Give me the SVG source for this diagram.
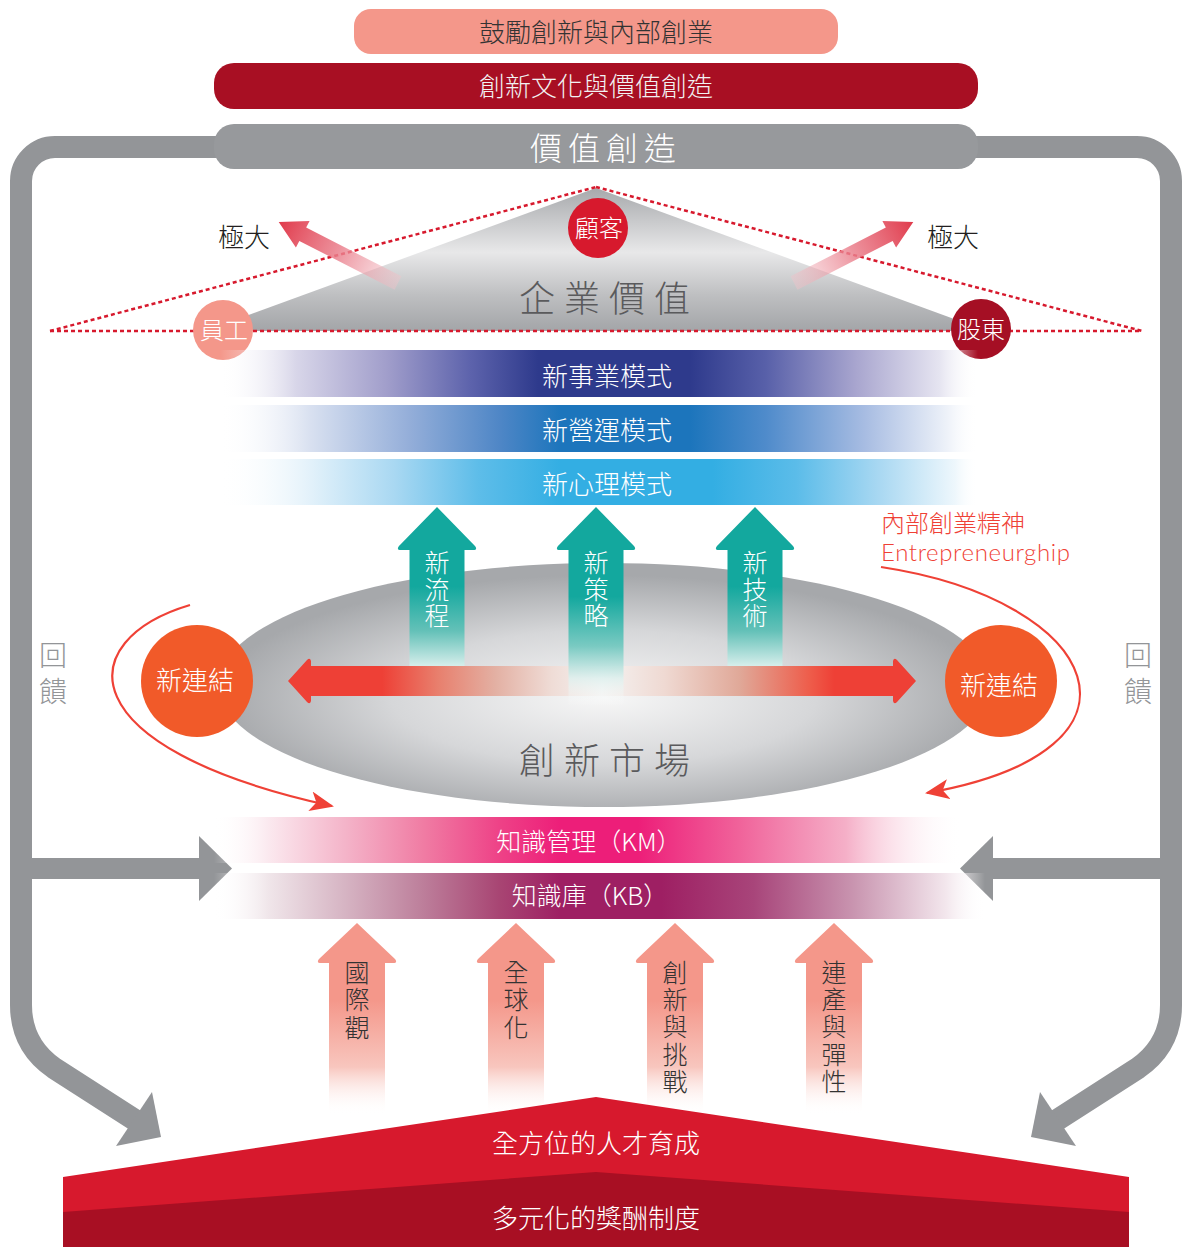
<svg xmlns="http://www.w3.org/2000/svg" width="1182" height="1247" viewBox="0 0 1182 1247">
<style>
.t{font-family:"Noto Sans CJK TC","Noto Sans CJK SC",sans-serif;font-weight:300;}
.c{text-anchor:middle;dominant-baseline:central;}
.w{fill:#ffffff;}
.dk{fill:#333333;}
.gy{fill:#5a5a5c;}
.frame{fill:none;stroke:#939598;stroke-width:22;}
.fhead{fill:#939598;}
.dot{fill:none;stroke:#D7192D;stroke-width:2.5;stroke-dasharray:4 3;}
.rc{fill:none;stroke:#EF4136;stroke-width:2.2;}
</style>
<defs>
<linearGradient id="gTri" x1="0" y1="0" x2="0" y2="1">
<stop offset="0" stop-color="#A7A9AC"/>
<stop offset="0.45" stop-color="#E8E8E9"/>
<stop offset="0.75" stop-color="#BEBFC1"/>
<stop offset="1" stop-color="#A3A5A8"/>
</linearGradient>
<radialGradient id="gEll" cx="0.5" cy="0.55" r="0.5">
<stop offset="0" stop-color="#F7F7F7"/>
<stop offset="0.55" stop-color="#D6D7D9"/>
<stop offset="1" stop-color="#A6A8AB"/>
</radialGradient>
<linearGradient id="gPink" x1="0" y1="0" x2="1" y2="0">
<stop offset="0" stop-color="#F3C3CA" stop-opacity="0.4"/>
<stop offset="0.5" stop-color="#EA7F8C" stop-opacity="0.85"/>
<stop offset="1" stop-color="#E03A4B"/>
</linearGradient>
<linearGradient id="gB1" x1="0" y1="0" x2="1" y2="0">
<stop offset="0" stop-color="#ffffff" stop-opacity="0"/>
<stop offset="0.1" stop-color="#D8D6E9"/>
<stop offset="0.22" stop-color="#A19ECB"/>
<stop offset="0.33" stop-color="#5D63AC"/>
<stop offset="0.42" stop-color="#2E3A8C"/>
<stop offset="0.62" stop-color="#2E3A8C"/>
<stop offset="0.72" stop-color="#5860A9"/>
<stop offset="0.84" stop-color="#A9A6CF"/>
<stop offset="0.95" stop-color="#E6E5F1"/>
<stop offset="1" stop-color="#ffffff" stop-opacity="0"/>
</linearGradient>
<linearGradient id="gB2" x1="0" y1="0" x2="1" y2="0">
<stop offset="0" stop-color="#ffffff" stop-opacity="0"/>
<stop offset="0.12" stop-color="#D8E0F0"/>
<stop offset="0.25" stop-color="#94AED9"/>
<stop offset="0.37" stop-color="#4E86C6"/>
<stop offset="0.45" stop-color="#1C75BC"/>
<stop offset="0.62" stop-color="#1C75BC"/>
<stop offset="0.72" stop-color="#4F8BCB"/>
<stop offset="0.85" stop-color="#A7BCE2"/>
<stop offset="0.96" stop-color="#EEF2F9"/>
<stop offset="1" stop-color="#ffffff" stop-opacity="0"/>
</linearGradient>
<linearGradient id="gB3" x1="0" y1="0" x2="1" y2="0">
<stop offset="0" stop-color="#ffffff" stop-opacity="0"/>
<stop offset="0.12" stop-color="#E2F1FA"/>
<stop offset="0.23" stop-color="#A9D8F2"/>
<stop offset="0.34" stop-color="#5EBDE9"/>
<stop offset="0.45" stop-color="#33AEE3"/>
<stop offset="0.65" stop-color="#33AEE3"/>
<stop offset="0.76" stop-color="#5BBCE9"/>
<stop offset="0.87" stop-color="#A9D8F2"/>
<stop offset="0.97" stop-color="#EEF7FC"/>
<stop offset="1" stop-color="#ffffff" stop-opacity="0"/>
</linearGradient>
<linearGradient id="gKM" x1="0" y1="0" x2="1" y2="0">
<stop offset="0" stop-color="#ffffff" stop-opacity="0"/>
<stop offset="0.07" stop-color="#FBE9EF"/>
<stop offset="0.17" stop-color="#F4B4C9"/>
<stop offset="0.27" stop-color="#F07DA4"/>
<stop offset="0.37" stop-color="#EE4287"/>
<stop offset="0.45" stop-color="#ED1E79"/>
<stop offset="0.55" stop-color="#ED1E79"/>
<stop offset="0.68" stop-color="#F0629A"/>
<stop offset="0.82" stop-color="#F5B0C8"/>
<stop offset="0.97" stop-color="#ffffff" stop-opacity="0"/>
</linearGradient>
<linearGradient id="gKB" x1="0" y1="0" x2="1" y2="0">
<stop offset="0" stop-color="#ffffff" stop-opacity="0"/>
<stop offset="0.07" stop-color="#F0E6EA"/>
<stop offset="0.17" stop-color="#D6B4C3"/>
<stop offset="0.27" stop-color="#BD7F9B"/>
<stop offset="0.37" stop-color="#A84573"/>
<stop offset="0.45" stop-color="#9E1F63"/>
<stop offset="0.58" stop-color="#9E1F63"/>
<stop offset="0.7" stop-color="#A8457A"/>
<stop offset="0.83" stop-color="#C995B0"/>
<stop offset="0.95" stop-color="#F3E7ED"/>
<stop offset="1" stop-color="#ffffff" stop-opacity="0"/>
</linearGradient>
<linearGradient id="gTeal" x1="0" y1="0" x2="0" y2="1">
<stop offset="0" stop-color="#13A89E"/>
<stop offset="0.5" stop-color="#13A89E"/>
<stop offset="0.78" stop-color="#64C1B8"/>
<stop offset="1" stop-color="#D6EEEB"/>
</linearGradient>
<linearGradient id="gTealM" x1="0" y1="0" x2="0" y2="1">
<stop offset="0" stop-color="#13A89E"/>
<stop offset="0.45" stop-color="#13A89E"/>
<stop offset="0.7" stop-color="#7ACAC2"/>
<stop offset="0.86" stop-color="#DDF0EE" stop-opacity="0.85"/>
<stop offset="1" stop-color="#ffffff" stop-opacity="0"/>
</linearGradient>
<linearGradient id="gSal" x1="0" y1="0" x2="0" y2="1">
<stop offset="0" stop-color="#F4978A"/>
<stop offset="0.4" stop-color="#F4978A"/>
<stop offset="0.75" stop-color="#F8C6BE"/>
<stop offset="1" stop-color="#ffffff" stop-opacity="0"/>
</linearGradient>
<linearGradient id="gRed" x1="288" y1="0" x2="916" y2="0" gradientUnits="userSpaceOnUse">
<stop offset="0" stop-color="#EE4036"/>
<stop offset="0.15" stop-color="#EE4036"/>
<stop offset="0.24" stop-color="#E8806E"/>
<stop offset="0.33" stop-color="#E3B0A3"/>
<stop offset="0.42" stop-color="#EFDCD6"/>
<stop offset="0.5" stop-color="#F5F3F2"/>
<stop offset="0.6" stop-color="#EFD9D2"/>
<stop offset="0.72" stop-color="#E0A898"/>
<stop offset="0.83" stop-color="#EE5D4B"/>
<stop offset="0.87" stop-color="#EE4036"/>
<stop offset="1" stop-color="#EE4036"/>
</linearGradient>
<marker id="mRed" viewBox="0 0 24 20" refX="22" refY="10" markerWidth="24" markerHeight="20" markerUnits="userSpaceOnUse" orient="auto">
<path d="M0,0 L24,10 L0,20 L6,10 Z" fill="#EF4136"/>
</marker>
</defs>

<!-- connectors: feedback frame and arrows -->
<g id="connectors">
<path class="frame" d="M230 147 H55 A34 34 0 0 0 21 181 V1005 Q21 1045 54 1068 L138 1122"/>
<polygon class="fhead" points="161,1137 152,1092 116,1146"/>
<path class="frame" d="M962 147 H1137 A34 34 0 0 1 1171 181 V1005 Q1171 1045 1138 1068 L1054 1122"/>
<polygon class="fhead" points="1031,1137 1040,1092 1076,1146"/>
<path class="frame" style="stroke-width:21" d="M21 868.5 H201"/>
<polygon class="fhead" points="199,836 232,868.5 199,901"/>
<path class="frame" style="stroke-width:21" d="M1171 868.5 H991"/>
<polygon class="fhead" points="993,836 960,868.5 993,901"/>
<path class="rc" d="M190 605 C72 640 66 748 332 806" marker-end="url(#mRed)"/>
<path class="rc" d="M881 567 C1100 600 1170 750 927 793" marker-end="url(#mRed)"/>
</g>

<g id="bar-encourage">
<rect x="354" y="9" width="484" height="45" rx="17" fill="#F4978A"/>
<text class="t c dk" x="596" y="30" font-size="26">鼓勵創新與內部創業</text>
</g>
<g id="bar-culture">
<rect x="214" y="63" width="764" height="46" rx="20" fill="#A80F23"/>
<text class="t c" x="596" y="84" font-size="26" fill="#F2F2F2">創新文化與價值創造</text>
</g>
<g id="bar-value">
<rect x="214" y="124" width="764" height="45" rx="20" fill="#97999C"/>
<text class="t c w" x="606" y="146" font-size="32" letter-spacing="6">價值創造</text>
</g>

<g id="feedback-left">
<text class="t c" x="53" y="654" font-size="28" fill="#939598">回</text>
<text class="t c" x="53" y="690" font-size="28" fill="#939598">饋</text>
</g>
<g id="feedback-right">
<text class="t c" x="1138" y="654" font-size="28" fill="#939598">回</text>
<text class="t c" x="1138" y="690" font-size="28" fill="#939598">饋</text>
</g>

<g id="enterprise-value">
<polygon points="205,331 596,188 987,331" fill="url(#gTri)"/>
<line class="dot" x1="50" y1="331" x2="596" y2="187"/>
<line class="dot" x1="596" y1="187" x2="1142" y2="331"/>
<line class="dot" x1="50" y1="331" x2="1142" y2="331"/>
<text class="t c gy" x="609" y="296" font-size="36" letter-spacing="9">企業價值</text>
</g>
<g id="maximize-left">
<path d="M0,-7.5 H107 V-15 L134,0 L107,15 V7.5 H0 Z" fill="url(#gPink)" transform="translate(398,283) rotate(-152.9)"/>
<text class="t c" x="244" y="235" font-size="26" fill="#231F20">極大</text>
</g>
<g id="maximize-right">
<path d="M0,-7.5 H107 V-15 L134,0 L107,15 V7.5 H0 Z" fill="url(#gPink)" transform="translate(794,283) rotate(-27.1)"/>
<text class="t c" x="953" y="235" font-size="26" fill="#231F20">極大</text>
</g>
<g id="customer">
<circle cx="598" cy="228" r="30" fill="#D7192D"/>
<text class="t c w" x="599" y="226" font-size="24">顧客</text>
</g>
<g id="employee">
<circle cx="223" cy="330" r="30" fill="#F4978A"/>
<text class="t c w" x="224" y="328" font-size="24">員工</text>
</g>
<g id="shareholder">
<circle cx="981" cy="329" r="30" fill="#A50F24"/>
<text class="t c w" x="981" y="327" font-size="24">股東</text>
</g>

<g id="band-business">
<rect x="220" y="350" width="758" height="47" fill="url(#gB1)"/>
<text class="t c w" x="607" y="374" font-size="26">新事業模式</text>
</g>
<g id="band-operation">
<rect x="220" y="405" width="758" height="47" fill="url(#gB2)"/>
<text class="t c w" x="607" y="428" font-size="26">新營運模式</text>
</g>
<g id="band-mind">
<rect x="220" y="459" width="758" height="46" fill="url(#gB3)"/>
<text class="t c w" x="607" y="482" font-size="26">新心理模式</text>
</g>

<g id="innovation-market">
<ellipse cx="604" cy="685" rx="386" ry="122" fill="url(#gEll)"/>
<text class="t c gy" x="609" y="758" font-size="36" letter-spacing="9">創新市場</text>
</g>
<g id="connect-arrow">
<path d="M288,681 L307,660 Q310,657 311,661 V666 H893 V661 Q894,657 897,660 L916,681 L897,702 Q894,705 893,701 V696 H311 V701 Q310,705 307,702 Z" fill="url(#gRed)"/>
</g>
<g id="arrow-process">
<path d="M437,507 L475,546 Q478,550 473,550 H464.5 V666 H409.5 V550 H401 Q396,550 399,546 Z" fill="url(#gTeal)"/>
<text class="t c w" font-size="25"><tspan x="437" y="561">新</tspan><tspan x="437" y="588">流</tspan><tspan x="437" y="614">程</tspan></text>
</g>
<g id="arrow-strategy">
<path d="M596,507 L634,546 Q637,550 632,550 H623.5 V706 H568.5 V550 H560 Q555,550 558,546 Z" fill="url(#gTealM)"/>
<text class="t c w" font-size="25"><tspan x="596" y="561">新</tspan><tspan x="596" y="588">策</tspan><tspan x="596" y="614">略</tspan></text>
</g>
<g id="arrow-tech">
<path d="M755,507 L793,546 Q796,550 791,550 H782.5 V666 H727.5 V550 H719 Q714,550 717,546 Z" fill="url(#gTeal)"/>
<text class="t c w" font-size="25"><tspan x="755" y="561">新</tspan><tspan x="755" y="588">技</tspan><tspan x="755" y="614">術</tspan></text>
</g>
<g id="connect-left">
<circle cx="197" cy="681" r="56" fill="#F15A29"/>
<text class="t c w" x="195" y="678" font-size="26">新連結</text>
</g>
<g id="connect-right">
<circle cx="1001" cy="681" r="56" fill="#F15A29"/>
<text class="t c w" x="999" y="683" font-size="26">新連結</text>
</g>
<g id="intrapreneurship">
<text class="t" x="881" y="532" font-size="24" fill="#EF4136">內部創業精神</text>
<text x="881" y="561" font-size="24" font-weight="300" fill="#EF4136" font-family="Lato, 'Liberation Sans', sans-serif" textLength="189">Entrepreneurghip</text>
</g>

<g id="band-km">
<rect x="214" y="817" width="771" height="46" fill="url(#gKM)"/>
<text class="t c w" x="589" y="840" font-size="25">知識管理（KM）</text>
</g>
<g id="band-kb">
<rect x="214" y="873" width="771" height="46" fill="url(#gKB)"/>
<text class="t c w" x="590" y="894" font-size="25">知識庫（KB）</text>
</g>

<g id="arrow-intl">
<path d="M357,923 L395,959 Q398,963 393,963 H385 V1115 H329 V963 H321 Q316,963 319,959 Z" fill="url(#gSal)"/>
<text class="t c dk" font-size="25"><tspan x="357" y="971">國</tspan><tspan x="357" y="998">際</tspan><tspan x="357" y="1026">觀</tspan></text>
</g>
<g id="arrow-global">
<path d="M516,923 L554,959 Q557,963 552,963 H544 V1115 H488 V963 H480 Q475,963 478,959 Z" fill="url(#gSal)"/>
<text class="t c dk" font-size="25"><tspan x="516" y="971">全</tspan><tspan x="516" y="998">球</tspan><tspan x="516" y="1026">化</tspan></text>
</g>
<g id="arrow-innov">
<path d="M675,923 L713,959 Q716,963 711,963 H703 V1115 H647 V963 H639 Q634,963 637,959 Z" fill="url(#gSal)"/>
<text class="t c dk" font-size="25"><tspan x="675" y="971">創</tspan><tspan x="675" y="998">新</tspan><tspan x="675" y="1025">與</tspan><tspan x="675" y="1053">挑</tspan><tspan x="675" y="1080">戰</tspan></text>
</g>
<g id="arrow-flex">
<path d="M834,923 L872,959 Q875,963 870,963 H862 V1115 H806 V963 H798 Q793,963 796,959 Z" fill="url(#gSal)"/>
<text class="t c dk" font-size="25"><tspan x="834" y="971">連</tspan><tspan x="834" y="998">產</tspan><tspan x="834" y="1025">與</tspan><tspan x="834" y="1053">彈</tspan><tspan x="834" y="1080">性</tspan></text>
</g>

<g id="talent">
<polygon points="63,1177 596,1097 1129,1177 1129,1247 63,1247" fill="#D7192D"/>
<text class="t c w" x="596" y="1141" font-size="26">全方位的人才育成</text>
</g>
<g id="reward">
<polygon points="63,1212 596,1172 1129,1212 1129,1247 63,1247" fill="#A80F23"/>
<text class="t c w" x="596" y="1216" font-size="26">多元化的獎酬制度</text>
</g>
</svg>
